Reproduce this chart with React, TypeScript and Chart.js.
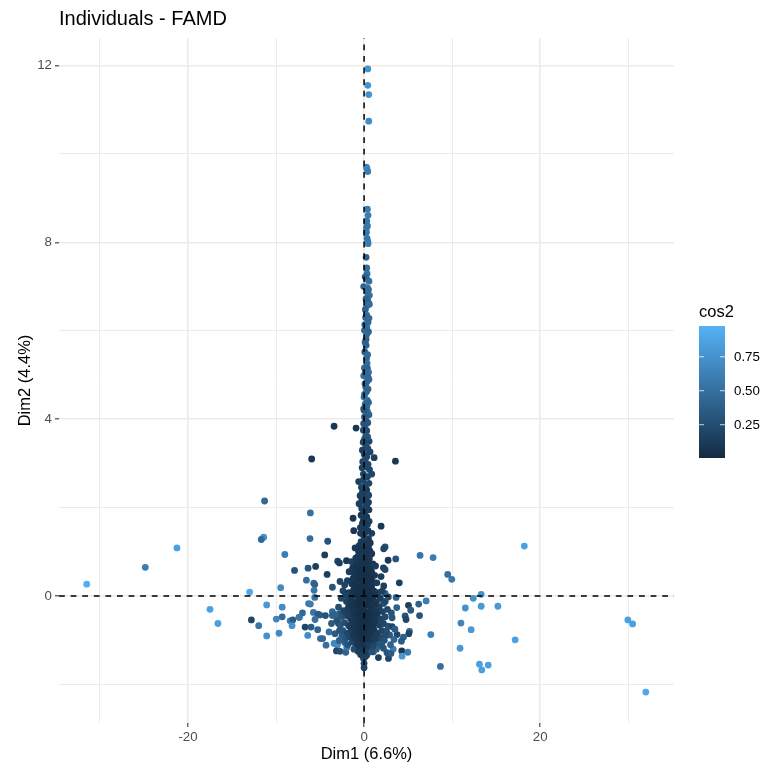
import React, { useEffect, useRef } from "react";
import { Chart, registerables } from "chart.js";

Chart.register(...registerables);

const chartTitle = "Individuals - FAMD";
const xTitle = "Dim1 (6.6%)";
const yTitle = "Dim2 (4.4%)";
const legendTitle = "cos2";
const legendTicks = [0.25, 0.5, 0.75];
const cosRange = [0.005, 0.976];
const lowColor = [19, 43, 67];
const highColor = [86, 177, 247];
const xMajor = [-20, 0, 20];
const yMajor = [0, 4, 8, 12];

type P = [number, number, number];

const leftOutliers: P[] = [
  [-31.5,.27,.95],[-24.85,.65,.6],[-21.25,1.09,.85],[-11.3,2.15,.45],[-11.4,1.33,.75],[-11.67,1.28,.45],
  [-9,.94,.6],[-7.9,.58,.3],[-9.47,.19,.7],[-13,.09,.9],[-11.06,-.2,.8],[-9.3,-.25,.7],[-17.5,-.3,.85],
  [-16.6,-.62,.85],[-12.8,-.54,.2],[-11.97,-.67,.55],[-11.06,-.9,.75],[-9.66,-.84,.7],[-9.97,-.52,.65],
  [-9.3,-.47,.45],[-8.4,-.56,.6],[-8.1,-.54,.35],[-8.18,-.67,.75],[-7.4,-.48,.55],
];

const rightOutliers: P[] = [
  [6.36,.92,.55],[7.84,.87,.6],[9.5,.49,.5],[9.96,.38,.55],[18.2,1.13,.85],[13.3,.04,.75],[12.4,-.05,.75],
  [7.05,-.11,.6],[6.2,-.18,.4],[5.04,-.21,.15],[5.3,-.32,.35],[4.66,-.45,.3],[4.77,-.53,.2],[6.3,-.44,.3],
  [11.5,-.27,.75],[13.3,-.23,.8],[15.2,-.23,.8],[11,-.61,.65],[12.16,-.76,.8],[7.58,-.87,.6],[5.15,-.8,.45],
  [5.08,-.85,.2],[4.47,-.93,.4],[4.24,-1.02,.35],[4.28,-1.24,.1],[4.96,-1.27,.6],[4.32,-1.36,.8],
  [17.16,-.99,.85],[10.9,-1.18,.8],[8.67,-1.59,.5],[13.1,-1.54,.85],[14.1,-1.56,.85],[13.37,-1.67,.85],
  [29.96,-.54,.85],[30.5,-.63,.85],[32,-2.17,.9],
];

const stemPoints: P[] = [
  [.42,11.92,.75],[.42,11.55,.75],[.53,11.34,.75],[.53,10.74,.7],[.27,9.7,.65],[.34,9.66,.65],[.42,9.6,.6],
  [.38,8.75,.6],[.45,8.61,.6],[.3,8.48,.55],[.38,8.37,.55],[.27,8.33,.55],[.27,8.23,.55],[.34,8.09,.55],
  [.42,8.02,.55],[.45,7.97,.6],[.23,7.66,.4],[.3,7.42,.5],[.34,7.29,.5],[.27,7.18,.45],[-.04,7,.4],[.38,6.97,.5],
  [.34,6.88,.45],[.42,6.76,.5],[.45,6.65,.45],[.34,6.57,.45],[.15,6.48,.4],[.3,6.35,.5],[.45,6.19,.45],[.3,6.09,.5],
  [.04,6.01,.45],[.23,5.81,.4],[.23,5.67,.4],[.08,5.52,.35],[.27,5.37,.45],[.34,5.26,.5],[.04,5.16,.45],[.38,5.15,.4],
  [-.04,4.98,.5],[.42,4.97,.45],[.3,4.84,.45],[.19,4.73,.4],[.27,4.62,.4],[0,4.5,.5],[.34,4.43,.5],[-.04,4.24,.35],
  [.3,4.28,.45],[.3,4.34,.4],[.38,4.17,.45],[0,4.2,.3],[.19,3.98,.35],[.11,3.86,.3],[.3,3.74,.25],[-.08,3.75,.25],
  [.2,3.62,.3],[.05,3.55,.3],[.57,3.5,.2],[.19,3.41,.25],[-.19,3.3,.15],[.68,3.26,.2],[.3,3.15,.2],[.02,3.2,.2],
  [-.15,3.04,.2],[.11,2.92,.25],[.61,2.86,.2],[.87,2.76,.2],[-.08,2.76,.2],[.38,2.7,.2],[-.61,2.59,.15],[.11,2.49,.2],
  [.3,2.4,.15],[-.1,2.62,.2],[-.45,2.27,.15],[.23,2.21,.15],[-.57,2.09,.15],[.3,2.05,.15],[-.27,1.98,.15],[.11,1.91,.15],
  [-.34,1.83,.1],[.3,1.79,.1],[.57,1.69,.15],[-.19,1.64,.1],[.11,1.53,.1],[.87,1.42,.15],[-.08,1.38,.1],[-.34,1.23,.15],
  [.3,1.19,.1],[-1.02,1.09,.1],[.49,1.11,.1],[-.64,1.02,.1],[-.08,1,.1],[.87,.96,.1],[-.45,.93,.1],[.3,.89,.1],
  [.1,1.3,.12],[.2,1.45,.12],[-.1,1.7,.1],[.1,2.12,.15],[0,2.3,.15],[.05,.82,.08],[-.2,.85,.08],
];

const stemFill: P[] = [
  [.55,7.12,.5],[.12,7.22,.42],[.5,6.93,.48],[.6,6.8,.5],[.22,6.72,.42],[.6,6.6,.48],[.18,6.3,.42],[.55,6.28,.45],
  [.08,6.14,.45],[.5,5.98,.42],[.3,5.92,.45],[.12,5.74,.4],[.4,5.46,.45],[.5,5.06,.48],[.12,5.04,.45],[.55,4.9,.45],
  [.1,4.8,.42],[.45,4.68,.42],[.05,4.56,.45],[.5,4.38,.42],[.14,4.34,.42],[.55,4.1,.4],[.05,4.05,.35],[.42,3.92,.32],
  [-.05,3.9,.3],[.4,3.6,.3],[-.1,3.48,.22],[.42,3.34,.22],[.12,3.08,.22],[.45,2.98,.22],[-.22,2.9,.18],[.55,2.55,.2],
  [-.3,2.46,.18],[.52,2.28,.18],[-.2,2.34,.15],[.5,2.12,.15],[-.25,2.18,.15],[.55,1.95,.14],[-.12,1.85,.12],[.38,1.62,.12],
  [-.42,1.55,.12],[.45,1.48,.12],[-.4,1.42,.12],[.5,1.3,.12],[-.15,1.18,.1],[-.55,1.14,.1],[.7,1.2,.1],[.1,1.08,.08],
  [-.3,1.08,.08],[.65,1.02,.1],[-.7,.9,.1],[.6,.85,.1],[-.95,.86,.1],[.15,.94,.07],[-.4,.78,.06],[.4,.78,.06],
];

const scatteredNearCentre: P[] = [
  [-3.41,3.84,.1],[-.91,3.8,.1],[-5.95,3.1,.1],[3.56,3.05,.1],[1.14,3.13,.15],[-6.1,1.88,.5],[-1.25,1.76,.1],
  [1.93,1.58,.1],[-1.17,1.48,.1],[-6.14,1.3,.5],[-4.13,1.24,.3],[-4.47,.93,.15],[2.39,1.11,.25],[2.23,1.07,.2],
  [3.6,.84,.3],[2.73,.81,.1],[-3,.79,.2],[-2.8,.75,.15],[-2,.8,.1],[-1.44,.78,.15],[-5.5,.67,.15],[-6.36,.63,.3],
  [-4.2,.49,.15],[2.2,.64,.15],[2.39,.6,.2],[1.93,.44,.15],[4,.3,.15],[2.23,.23,.15],[-6.55,.36,.5],[-5.72,.29,.45],
  [-5.6,.26,.4],[-5.68,.13,.55],[-3.6,.2,.3],[-2.73,.33,.2],[-5.6,-.03,.55],[-6.3,-.17,.55],[-6.1,-.18,.6],[-7,-.38,.45],
  [-5.76,-.37,.55],[-7.35,-.48,.5],[-5,-.43,.4],[-5.23,-.41,.35],[-4.39,-.44,.3],[-3.6,-.35,.45],[-3.6,-.44,.4],
  [-5.57,-.53,.5],[-6.7,-.7,.2],[-6.02,-.7,.35],[-5.27,-.76,.4],[-3.98,-.81,.5],[-6.4,-.89,.7],[-4.96,-.96,.5],
  [-4.7,-.96,.45],[-4.32,-1.11,.5],[-3.41,-1.07,.65],[-3.03,-1.11,.7],[-3.14,-1.24,.2],[-2.73,-1.25,.25],
  [-2.08,-1.27,.4],[-1.97,-1.16,.55],[-2.84,-1.01,.4],[3.71,-.26,.4],[3.64,-.03,.4],[3.1,-.38,.3],[3.18,-.49,.3],
  [2.73,-.68,.3],[3.18,-.69,.2],[3.75,-.87,.2],[2.39,.06,.4],[2.2,-.17,.3],[3.3,-1.2,.6],[2.77,-1.41,.2],[1.63,-1.39,.15],
  [0,-1.62,.2],[0,-1.52,.2],[-.07,-1.41,.3],[3.4,-.98,.45],[3,-1.1,.4],[2.6,-1.28,.3],[3.05,-1.3,.35],[2.2,-1.18,.3],
  [2.9,-.88,.35],[2.4,-.9,.25],[3.5,-.75,.35],[-3.7,-.62,.35],[-3.1,-.55,.3],[-2.75,-.4,.3],[-3.3,-.85,.35],[-2.8,-.78,.3],
  [-2.5,-.9,.35],[-2.2,-1.05,.4],[-3.2,-.42,.4],[-2.9,-.62,.25],
];

const blobPoints: P[] = [
  [-.9,.72,.1],[-.5,.68,.08],[-.2,.74,.06],[.25,.7,.06],[.6,.66,.08],[1,.73,.1],[-1.3,.64,.1],[1.3,.68,.12],
  [-1.7,.55,.12],[-1.1,.5,.08],[-.7,.57,.07],[-.35,.48,.05],[.1,.54,.05],[.45,.5,.05],[.85,.55,.08],[1.2,.47,.1],[-.05,.45,.05],
  [-1.9,.35,.15],[-1.4,.28,.1],[-.95,.33,.08],[-.6,.37,.06],[-.25,.3,.05],[.15,.35,.05],[.5,.27,.05],[.95,.33,.08],[1.45,.3,.12],[-2.2,.25,.18],[-.05,.25,.04],
  [-2.4,.12,.2],[-1.75,.08,.12],[-1.2,.14,.08],[-.8,.06,.06],[-.45,.13,.05],[-.1,.08,.04],[.3,.14,.04],[.7,.06,.06],[1.1,.12,.08],[1.6,.08,.12],[2.05,.11,.16],[-2.1,.02,.18],
  [-2.6,-.05,.22],[-2,-.12,.16],[-1.5,-.06,.1],[-1.05,-.14,.07],[-.65,-.07,.05],[-.25,-.12,.04],[.2,-.05,.04],[.6,-.13,.05],[1,-.08,.07],[1.4,-.14,.1],[1.85,-.05,.14],[2.4,-.12,.2],[2.75,-.02,.25],
  [-2.9,-.25,.25],[-2.3,-.33,.18],[-1.8,-.27,.14],[-1.3,-.34,.1],[-.85,-.26,.07],[-.45,-.32,.05],[-.05,-.25,.04],[.4,-.35,.05],[.8,-.28,.06],[1.25,-.33,.1],[1.7,-.25,.13],[2.1,-.35,.18],[2.65,-.3,.22],
  [-2.6,-.48,.3],[-2.05,-.44,.22],[-1.55,-.5,.15],[-1.05,-.46,.1],[-.65,-.52,.07],[-.2,-.45,.05],[.2,-.5,.05],[.6,-.45,.06],[1.05,-.52,.09],[1.5,-.46,.13],[1.95,-.52,.17],[2.4,-.47,.22],
  [-2.7,-.66,.32],[-2.2,-.6,.25],[-1.75,-.67,.18],[-1.3,-.6,.12],[-.85,-.66,.08],[-.4,-.6,.05],[0,-.67,.05],[.45,-.6,.05],[.85,-.66,.07],[1.3,-.6,.11],[1.75,-.66,.16],[2.2,-.62,.2],
  [-2.4,-.78,.3],[-1.9,-.84,.22],[-1.45,-.78,.15],[-1,-.84,.1],[-.55,-.78,.06],[-.15,-.84,.05],[.25,-.78,.05],[.7,-.84,.07],[1.15,-.78,.1],[1.6,-.84,.15],[2.05,-.78,.2],[2.55,-.8,.25],
  [-2.65,-.98,.38],[-2.1,-.96,.3],[-1.65,-.92,.2],[-1.2,-.98,.14],[-.75,-.92,.09],[-.3,-.98,.06],[.1,-.92,.05],[.5,-.98,.07],[.95,-.92,.1],[1.4,-.98,.15],[1.85,-.94,.2],[2.3,-1,.28],
  [-1.85,-1.1,.3],[-1.35,-1.04,.2],[-.9,-1.12,.12],[-.45,-1.06,.08],[0,-1.12,.07],[.35,-1.05,.1],[.8,-1.12,.15],[1.2,-1.06,.2],[1.6,-1.12,.28],[2,-1.08,.3],
  [-1.15,-1.2,.25],[-.7,-1.25,.18],[-.25,-1.2,.12],[.2,-1.26,.1],[.6,-1.2,.2],[1.05,-1.26,.3],[1.4,-1.2,.38],[-.4,-1.32,.15],[.3,-1.34,.14],
];

const coreFill: P[] = [
  [-.85,.62,.06],[-.55,.55,.05],[-.15,.6,.05],[.3,.6,.05],[.7,.6,.07],[-1.25,.4,.08],[-.75,.44,.06],[-.45,.42,.05],[-.1,.38,.04],[.3,.44,.04],[.7,.4,.05],
  [-1.05,.24,.06],[-.75,.18,.05],[-.45,.22,.04],[-.15,.17,.04],[.2,.24,.04],[.55,.18,.04],[.85,.22,.05],
  [-1.4,0,.08],[-1,.02,.06],[-.6,.03,.04],[-.3,-.02,.03],[.05,.02,.03],[.4,.03,.03],[.8,0,.04],[1.25,.02,.07],
  [-1.7,-.19,.11],[-1.3,-.22,.07],[-.9,-.18,.05],[-.5,-.2,.03],[-.15,-.19,.03],[.35,-.2,.03],[.75,-.21,.04],[1.1,-.19,.06],
  [-1.85,-.4,.14],[-1.1,-.4,.06],[-.65,-.4,.04],[-.25,-.38,.03],[.15,-.4,.03],[.55,-.41,.03],[.95,-.4,.05],[1.45,-.38,.08],
  [-1.4,-.56,.09],[-.9,-.56,.06],[-.45,-.53,.04],[-.05,-.55,.03],[.35,-.55,.03],[.8,-.54,.05],[1.25,-.55,.08],
  [-1.55,-.7,.12],[-1.1,-.72,.08],[-.65,-.7,.05],[-.2,-.72,.03],[.2,-.68,.03],[.6,-.72,.05],[1.05,-.7,.07],
  [-1.2,-.88,.1],[-.8,-.84,.06],[-.35,-.86,.04],[.05,-.82,.03],[.45,-.86,.05],[.9,-.84,.07],[1.35,-.86,.12],
  [-1,-.96,.1],[-.55,-.98,.06],[-.1,-.98,.04],[.3,-.98,.05],[.75,-.98,.07],[1.15,-.96,.12],
  [-.7,-1.1,.1],[-.25,-1.12,.07],[.15,-1.12,.07],[.55,-1.1,.12],[1,-1.14,.2],
  [-.5,-1.22,.12],[-.05,-1.26,.08],[.4,-1.24,.14],[.85,-1.26,.28],[-.2,-1.34,.15],[.1,-1.38,.15],
];

const individuals: P[] = [...stemPoints, ...stemFill, ...scatteredNearCentre, ...blobPoints, ...coreFill, ...leftOutliers, ...rightOutliers];

function colourFor(v: number) {
  const t = Math.max(0, Math.min(1, (v - cosRange[0]) / (cosRange[1] - cosRange[0])));
  const c = lowColor.map((l, i) => Math.round(l + (highColor[i] - l) * t));
  return `rgb(${c[0]},${c[1]},${c[2]})`;
}

const FONT = "'Liberation Sans', Arial, sans-serif";
const BAR = { x: 699, w: 26, top: 326, bottom: 458 };

const colourBarPlugin = {
  id: "colourBar",
  afterDraw(chart: any) {
    const c = chart.ctx as CanvasRenderingContext2D;
    c.save();
    const g = c.createLinearGradient(0, BAR.bottom, 0, BAR.top);
    for (let i = 0; i <= 10; i++) {
      const v = cosRange[0] + (cosRange[1] - cosRange[0]) * (i / 10);
      g.addColorStop(i / 10, colourFor(v));
    }
    c.fillStyle = g;
    c.fillRect(BAR.x, BAR.top, BAR.w, BAR.bottom - BAR.top);
    c.fillStyle = "#000";
    c.font = `16.5px ${FONT}`;
    c.textBaseline = "middle";
    c.textAlign = "left";
    c.fillText(legendTitle, BAR.x, 312);
    c.font = `13.3px ${FONT}`;
    legendTicks.forEach((v) => {
      const y = BAR.bottom - ((v - cosRange[0]) / (cosRange[1] - cosRange[0])) * (BAR.bottom - BAR.top);
      c.fillStyle = "rgba(255,255,255,0.75)";
      c.fillRect(BAR.x, y - 0.5, 5, 1);
      c.fillRect(BAR.x + BAR.w - 5, y - 0.5, 5, 1);
      c.fillStyle = "#000";
      c.fillText(v.toFixed(2), 734, y + 0.5);
    });
    c.restore();
  },
};

export default function App() {
  const ref = useRef<HTMLCanvasElement>(null);
  useEffect(() => {
    const xMin = -34.65, xMax = 35.2, yMin = -2.87, yMax = 12.62;
    const chart = new Chart(ref.current!, {
      type: "scatter",
      plugins: [colourBarPlugin],
      data: {
        datasets: [
          {
            label: "h",
            data: [{ x: xMin, y: 0 }, { x: xMax, y: 0 }],
            showLine: true, borderColor: "#000", borderWidth: 1.5, borderDash: [5.8, 5.8],
            pointRadius: 0, order: 0,
          },
          {
            label: "v",
            data: [{ x: 0, y: yMin }, { x: 0, y: yMax }],
            showLine: true, borderColor: "#000", borderWidth: 1.5, borderDash: [5.8, 5.8],
            pointRadius: 0, order: 0,
          },
          {
            label: "individuals",
            data: individuals.map((p) => ({ x: p[0], y: p[1] })),
            pointRadius: 3.4, pointBorderWidth: 0,
            pointBackgroundColor: individuals.map((p) => colourFor(p[2])),
            order: 1,
          },
        ] as any,
      },
      options: {
        animation: false,
        responsive: false,
        layout: { padding: { left: 0, right: 87, top: 0, bottom: 0 } },
        plugins: {
          legend: { display: false },
          tooltip: { enabled: false },
          title: {
            display: true, text: chartTitle, align: "start", fullSize: false, color: "#000",
            font: { family: FONT, size: 20, weight: "normal" }, padding: { top: 7, bottom: 7 },
          },
        },
        scales: {
          x: {
            type: "linear", min: xMin, max: xMax,
            afterFit: (s: any) => { s.height = 41; },
            border: { display: false },
            grid: {
              color: "#ebebeb",
              lineWidth: (c: any) => (xMajor.includes(c.tick?.value) ? 1.6 : 1),
              tickColor: (c: any) => (xMajor.includes(c.tick?.value) ? "#333" : "rgba(0,0,0,0)"),
              tickLength: 4, tickWidth: 1.1,
            } as any,
            ticks: {
              stepSize: 10, includeBounds: false, maxRotation: 0, autoSkip: false, padding: 2, color: "#4d4d4d",
              font: { family: FONT, size: 13.3 },
              callback: (v: any) => (xMajor.includes(v) ? String(v) : ""),
            },
            title: { display: true, text: xTitle, color: "#000", font: { family: FONT, size: 16.5 }, padding: 0 },
          },
          y: {
            type: "linear", min: yMin, max: yMax,
            afterFit: (s: any) => { s.width = 59; },
            border: { display: false },
            grid: {
              color: "#ebebeb",
              lineWidth: (c: any) => (yMajor.includes(c.tick?.value) ? 1.6 : 1),
              tickColor: (c: any) => (yMajor.includes(c.tick?.value) ? "#333" : "rgba(0,0,0,0)"),
              tickLength: 4, tickWidth: 1.1,
            } as any,
            ticks: {
              stepSize: 2, includeBounds: false, autoSkip: false, padding: 3, color: "#4d4d4d",
              font: { family: FONT, size: 13.3 },
              callback: (v: any) => (yMajor.includes(v) ? String(v) : ""),
            },
            title: { display: true, text: yTitle, color: "#000", font: { family: FONT, size: 16.5 }, padding: { top: 16, bottom: 0 } },
          },
        },
      },
    } as any);
    return () => chart.destroy();
  }, []);
  return (
    <canvas
      ref={ref}
      width={761}
      height={764}
      style={{ position: "absolute", left: 0, top: 0, display: "block", background: "#fff" }}
    />
  );
}
